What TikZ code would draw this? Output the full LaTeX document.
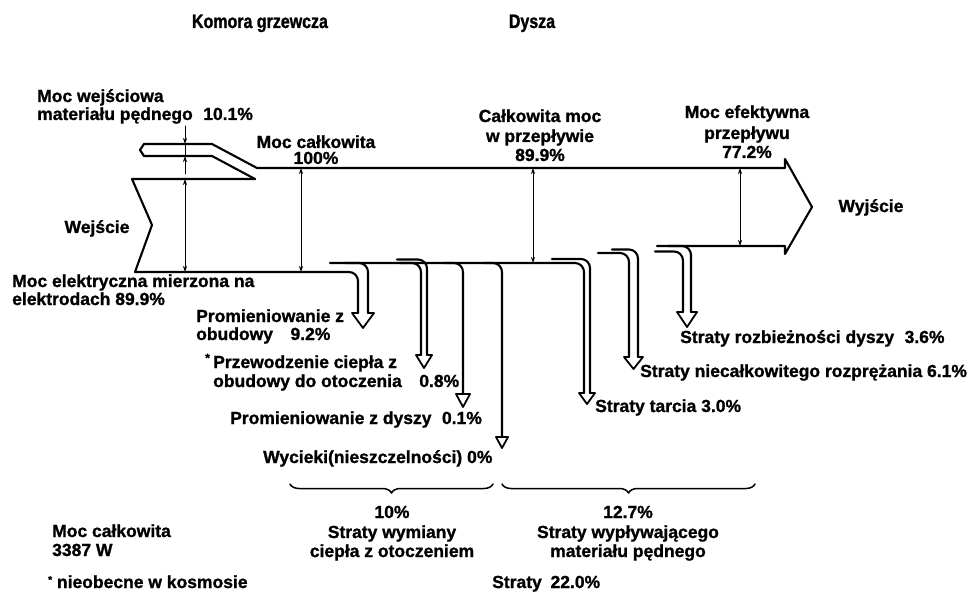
\documentclass[tikz,border=0pt]{standalone}
\usepackage{fontspec}
\setmainfont{Liberation Sans}[FakeBold=1.2]
\newfontfamily\narrowf{Liberation Sans}[FakeStretch=0.82,FakeBold=1.2]
\usetikzlibrary{arrows.meta,decorations.pathreplacing}
\begin{document}
\begin{tikzpicture}[x=1pt,y=-1pt,line join=round,line cap=round,
  flow/.style={line width=2.1pt,rounded corners=9pt},
  edge/.style={line width=2.1pt},
  dim/.style={line width=0.8pt,{Stealth[length=6pt,width=4pt]}-{Stealth[length=6pt,width=4pt]}},
  dimone/.style={line width=0.8pt,-{Stealth[length=6pt,width=4pt]}},
  headw/.style={line width=1.8pt},
  lbl/.style={font=\bfseries\fontsize{17.5}{20}\selectfont,inner sep=0pt},
  ttl/.style={font=\narrowf\bfseries\fontsize{19.5}{22}\selectfont,inner sep=0pt},
  brc/.style={line width=1.5pt,decorate,decoration={brace,mirror,amplitude=9pt}}]
\useasboundingbox (0,0) rectangle (977,596);

% ---------- titles
\node[ttl,anchor=base] (tkom) at (260,28) {Komora grzewcza};
\node[ttl,anchor=base] (tdys) at (532,28) {Dysza};

% ---------- propellant inlet tube and main flow outline
\draw[edge] (144,144) -- (212,144) -- (257,168) -- (785,168) -- (785,159)
  -- (812,207) -- (785,254) -- (785,246) -- (657,246);
\draw[edge] (144,144) -- (140,150) -- (144,156) -- (212,156) -- (255,179);
% inlet (Wejście)
\draw[edge] (255,179) -- (132,179) -- (152,225) -- (135,272);
\draw[flow] (135,272) -- (358,272) -- (358,313);

% ---------- main lower line and loss arrows
\draw[flow] (330,263) -- (584,263) -- (584,393);
% arrow 1
\draw[flow] (345,263) -- (368,263) -- (368,313);
\draw[headw] (358,313) -- (352,313) -- (363,328) -- (374,313) -- (368,313);
% arrow 2
\draw[flow] (400,263) -- (421,263) -- (421,355);
\draw[flow] (397,259.5) -- (427,259.5) -- (427,355);
\draw[headw] (421,355) -- (416,355) -- (424,368) -- (432,355) -- (427,355);
% arrow 3
\draw[flow] (445,263) -- (463,263) -- (463,394);
\draw[headw] (456,394) -- (463,407) -- (470,394) -- cycle;
% arrow 4
\draw[flow] (485,263) -- (502,263) -- (502,437);
\draw[headw] (496,437) -- (502,448) -- (508,437) -- cycle;
% arrow 5
\draw[flow] (552,259) -- (590,259) -- (590,393);
\draw[headw] (584,393) -- (579,393) -- (587,404) -- (595,393) -- (590,393);
% arrow 6
\draw[flow] (598,253) -- (629,253) -- (629,357);
\draw[flow] (612,249.5) -- (638,249.5) -- (638,357);
\draw[headw] (629,357) -- (624,357) -- (633.5,369) -- (643,357) -- (638,357);
% arrow 7
\draw[flow] (655,251.5) -- (683,251.5) -- (683,312);
\draw[flow] (668,246) -- (691,246) -- (691,312);
\draw[headw] (683,312) -- (677,312) -- (687,327) -- (697,312) -- (691,312);

% ---------- dimension arrows
\coordinate (a0) at (185,126); \coordinate (a1) at (185,144);
\coordinate (a2) at (185,156); \coordinate (a3) at (185,174);
\draw[dimone] (a0) -- (a1);
\draw[line width=0.8pt] (a1) -- (a2);
\draw[dimone] (a3) -- (a2);
\coordinate (b0) at (185,179); \coordinate (b1) at (185,272);
\draw[dim] (b0) -- (b1);
\coordinate (c0) at (301,168); \coordinate (c1) at (301,272);
\draw[dim] (c0) -- (c1);
\coordinate (d0) at (533,168); \coordinate (d1) at (533,263);
\draw[dim] (d0) -- (d1);
\coordinate (e0) at (740,168); \coordinate (e1) at (740,246);
\draw[dim] (e0) -- (e1);

% ---------- labels
\node[lbl,anchor=base west] (l1a) at (37,102) {Moc wejściowa};
\node[lbl,anchor=base west] (l1b) at (37,120) {materiału pędnego\hspace{0.6em}10.1\%};
\node[lbl,anchor=base] (l2a) at (316,148) {Moc całkowita};
\node[lbl,anchor=base] (l2b) at (316,164) {100\%};
\node[lbl,anchor=base] (l3a) at (540,122) {Całkowita moc};
\node[lbl,anchor=base] (l3b) at (540,142) {w przepływie};
\node[lbl,anchor=base] (l3c) at (540,161) {89.9\%};
\node[lbl,anchor=base] (l4a) at (747,118) {Moc efektywna};
\node[lbl,anchor=base] (l4b) at (747,139) {przepływu};
\node[lbl,anchor=base] (l4c) at (747,158) {77.2\%};
\node[lbl,anchor=base] (lwe) at (97,233) {Wejście};
\node[lbl,anchor=base] (lwy) at (871,212) {Wyjście};
\node[lbl,anchor=base west] (l5a) at (12,287) {Moc elektryczna mierzona na};
\node[lbl,anchor=base west] (l5b) at (12,305) {elektrodach 89.9\%};
\node[lbl,anchor=base west] (l6a) at (196,322) {Promieniowanie z};
\node[lbl,anchor=base west] (l6b) at (196,340) {obudowy\hspace{1em}9.2\%};
\node[lbl,anchor=base west,font=\bfseries\fontsize{12}{12}\selectfont] (l7s) at (205,362) {*};
\node[lbl,anchor=base west] (l7a) at (213,368) {Przewodzenie ciepła z};
\node[lbl,anchor=base west] (l7b) at (213,387) {obudowy do otoczenia\hspace{1em}0.8\%};
\node[lbl,anchor=base west] (l8) at (230,424) {Promieniowanie z dyszy\hspace{0.6em}0.1\%};
\node[lbl,anchor=base west] (l9) at (263,463) {Wycieki(nieszczelności) 0\%};
\node[lbl,anchor=base west] (l10) at (680,343) {Straty rozbieżności dyszy\hspace{0.6em}3.6\%};
\node[lbl,anchor=base west] (l11) at (640,377) {Straty niecałkowitego rozprężania 6.1\%};
\node[lbl,anchor=base west] (l12) at (595,412) {Straty tarcia 3.0\%};

% ---------- braces
\coordinate (br1a) at (290,484); \coordinate (br1b) at (493,484);
\coordinate (br2a) at (502,484); \coordinate (br2b) at (755,484);
\draw[brc] (br1a) -- (br1b);
\draw[brc] (br2a) -- (br2b);

% ---------- bottom texts
\node[lbl,anchor=base west] (m1) at (52,537) {Moc całkowita};
\node[lbl,anchor=base west] (m2) at (52,556) {3387 W};
\node[lbl,anchor=base] (s1a) at (392,518) {10\%};
\node[lbl,anchor=base] (s1b) at (392,538) {Straty wymiany};
\node[lbl,anchor=base] (s1c) at (392,557) {ciepła z otoczeniem};
\node[lbl,anchor=base] (s2a) at (628,518) {12.7\%};
\node[lbl,anchor=base] (s2b) at (628,538) {Straty wypływającego};
\node[lbl,anchor=base] (s2c) at (628,557) {materiału pędnego};
\node[lbl,anchor=base west] (n1) at (48,588) {\raisebox{5pt}{\fontsize{10}{10}\selectfont *} nieobecne w kosmosie};
\node[lbl,anchor=base west] (n2) at (492,588) {Straty\hspace{0.5em}22.0\%};
\end{tikzpicture}
\end{document}
